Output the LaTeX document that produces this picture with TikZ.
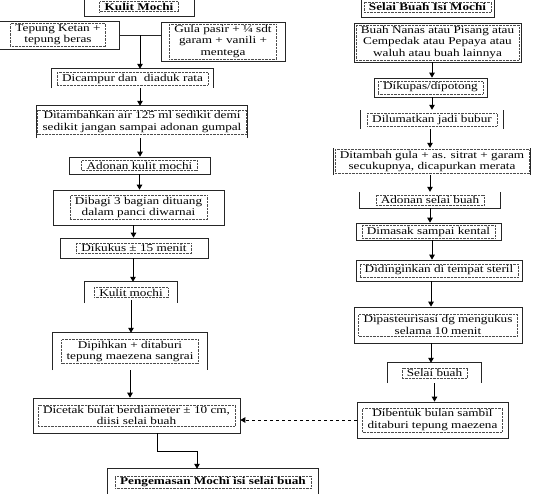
\documentclass[tikz,border=0pt]{standalone}
\usepackage{fontspec}
\setmainfont[FakeStretch=1.27]{Liberation Serif}
\usepackage{tikz}
\usetikzlibrary{arrows.meta}
\tikzstyle{box} = [rectangle, draw=black!85, line width=0.7pt, inner sep=0pt]
\tikzstyle{openbox} = [rectangle, inner sep=0pt]
\tikzstyle{frame} = [draw=black!85, line width=0.7pt]
\tikzstyle{txt} = [draw=black!70, densely dotted, line width=0.4pt, inner xsep=5pt, inner ysep=1.5pt, align=center, font=\fontsize{10.4}{11.2}\selectfont]
\tikzstyle{title} = [txt, font=\fontsize{10.4}{11.2}\selectfont\bfseries]
\tikzstyle{arrow} = [line width=1pt, -{Triangle[length=5pt,width=5.5pt]}]
\tikzstyle{dasharrow} = [arrow, dashed]

\begin{document}
\begin{tikzpicture}[x=1pt, y=-1pt]
\useasboundingbox (0,0) rectangle (540,493);
% kulit mochi
\node (kulit) [box, minimum width=110pt, minimum height=19pt, label={[title]center:Kulit Mochi}] at (139,6.5) {};
\node (tepung) [box, minimum width=122pt, minimum height=28pt, label={[txt]center:{Tepung Ketan +\\tepung beras}}] at (58,35) {};
\node (gula) [box, minimum width=124pt, minimum height=39pt, label={[txt]center:{Gula pasir + ¼ sdt\\garam + vanili +\\mentega}}] at (223,41.5) {};
\node (campur) [openbox, minimum width=161pt, minimum height=19pt, label={[txt]center:Dicampur dan \ diaduk rata}] at (132.5,78.5) {};
\node (tambah) [openbox, minimum width=210pt, minimum height=32pt, label={[txt]center:{Ditambahkan air 125 ml sedikit demi\\sedikit jangan sampai adonan gumpal}}] at (142,122) {};
\node (adonan) [box, minimum width=141pt, minimum height=17pt, label={[txt]center:Adonan kulit mochi}] at (139.5,165.5) {};
\node (bagi) [box, minimum width=171pt, minimum height=35pt, label={[txt]center:{Dibagi 3 bagian dituang\\dalam panci diwarnai}}] at (138.5,207.5) {};
\node (kukus) [box, minimum width=148pt, minimum height=20pt, label={[txt]center:Dikukus ± 15 menit}] at (134,248) {};
\node (kulitmochi) [openbox, minimum width=92pt, minimum height=21pt, label={[txt]center:Kulit mochi}] at (131,292.5) {};
\node (pipih) [openbox, minimum width=154pt, minimum height=37pt, label={[txt]center:{Dipihkan + ditaburi\\tepung maezena sangrai}}] at (130,351.5) {};
\node (cetak) [box, minimum width=207pt, minimum height=35pt, label={[txt]center:{Dicetak bulat berdiameter ± 10 cm,\\diisi selai buah}}] at (136.5,415.5) {};
\node (kemas) [openbox, minimum width=210pt, minimum height=26pt, label={[title]center:Pengemasan Mochi isi selai buah}] at (213,482) {};
% selai buah
\node (selai) [box, minimum width=133pt, minimum height=20pt, label={[title]center:Selai Buah Isi Mochi}] at (427.5,7) {};
\node (buah) [box, minimum width=167pt, minimum height=39pt, label={[txt]center:{Buah Nanas atau Pisang atau\\Cempedak atau Pepaya atau\\waluh atau buah lainnya}}] at (437.5,42.5) {};
\node (kupas) [box, minimum width=113pt, minimum height=19pt, label={[txt]center:Dikupas/dipotong}] at (430.5,87.5) {};
\node (lumat) [openbox, minimum width=142pt, minimum height=19pt, label={[txt]center:Dilumatkan jadi bubur}] at (432,119.5) {};
\node (tgula) [openbox, minimum width=196pt, minimum height=27pt, label={[txt]center:{Ditambah gula + as. sitrat + garam\\secukupnya, dicapurkan merata}}] at (432,161.5) {};
\node (adonanselai) [openbox, minimum width=140pt, minimum height=16pt, label={[txt]center:Adonan selai buah}] at (430,200) {};
\node (masak) [box, minimum width=145pt, minimum height=17pt, label={[txt]center:Dimasak sampai kental}] at (428.5,231.5) {};
\node (dingin) [box, minimum width=166pt, minimum height=21pt, label={[txt]center:Didinginkan di tempat steril}] at (439,270.5) {};
\node (pasteur) [box, minimum width=168pt, minimum height=36pt, label={[txt]center:{Dipasteurisasi dg mengukus\\selama 10 menit}}] at (438,325) {};
\node (selaibuah) [openbox, minimum width=93pt, minimum height=20pt, label={[txt]center:Selai buah}] at (434.5,373) {};
\node (bentuk) [box, minimum width=151pt, minimum height=36pt, label={[txt]center:{Dibentuk bulan sambil\\ditaburi tepung maezena}}] at (432.5,420) {};
% open frames
\draw [frame] (campur.south west) |- (campur.north east) -- (campur.south east);
\draw [frame] (tambah.south west) |- (tambah.north east) -- (tambah.south east);
\draw [frame] (kulitmochi.south west) |- (kulitmochi.north east) -- (kulitmochi.south east);
\draw [frame] (pipih.south west) |- (pipih.north east) -- (pipih.south east);
\draw [frame] (kemas.south west) |- (kemas.north east) -- (kemas.south east);
\draw [frame] (selaibuah.south west) |- (selaibuah.north east) -- (selaibuah.south east);
\draw [frame] (lumat.south west) -- (lumat.north west) (lumat.south east) -- (lumat.north east);
\draw [frame] (tgula.south west) -- (tgula.north west) (tgula.south east) -- (tgula.north east);
\draw [frame] (adonanselai.north west) |- (adonanselai.south east) -- (adonanselai.north east);
% arrows left
\draw [frame] (tepung.east) -- coordinate[pos=0.5] (join) (tepung.east -| gula.west);
\draw [arrow] (join) -- (join |- campur.north);
\draw [arrow] ([xshift=7.5pt]campur.south) coordinate (p) -- (p |- tambah.north);
\draw [arrow] ([xshift=-2pt]tambah.south) coordinate (p) -- (p |- adonan.north);
\draw [arrow] (adonan.south) -- (adonan.south |- bagi.north);
\draw [arrow] ([xshift=-5pt]bagi.south) coordinate (p) -- (p |- kukus.north);
\draw [arrow] ([xshift=-1pt]kukus.south) coordinate (p) -- (p |- kulitmochi.north);
\draw [arrow] ([yshift=3pt]kulitmochi.south) -- (kulitmochi.south |- pipih.north);
\draw [arrow] (pipih.south) -- (pipih.south |- cetak.north);
\draw [arrow] ([xshift=20.5pt]cetak.south) -- ++(0,18) -| ([xshift=-16pt]kemas.north);
% arrows right
\draw [arrow] ([xshift=-5.5pt]buah.south) coordinate (p) -- (p |- kupas.north);
\draw [arrow] ([xshift=1.5pt]kupas.south) coordinate (p) -- (p |- lumat.north);
\draw [arrow] ([xshift=-2pt]lumat.south) coordinate (p) -- (p |- tgula.north);
\draw [arrow] ([xshift=-2pt]tgula.south) coordinate (p) -- (p |- adonanselai.north);
\draw [arrow] (adonanselai.south) -- (adonanselai.south |- masak.north);
\draw [arrow] ([xshift=3.5pt]masak.south) coordinate (p) -- (p |- dingin.north);
\draw [arrow] ([xshift=-8pt]dingin.south) coordinate (p) -- (p |- pasteur.north);
\draw [arrow] ([xshift=-7pt]pasteur.south) coordinate (p) -- (p |- selaibuah.north);
\draw [arrow] (selaibuah.south) -- (selaibuah.south |- bentuk.north);
\draw [dasharrow] (bentuk.west) -- (bentuk.west -| cetak.east);
\end{tikzpicture}
\end{document}
